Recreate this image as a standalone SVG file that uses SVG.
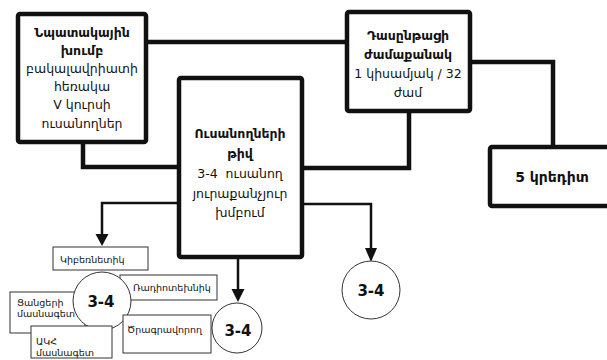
<svg xmlns="http://www.w3.org/2000/svg" width="607" height="360" viewBox="0 0 607 360">
<style>
.box{fill:#fff;stroke:#111;stroke-width:4.5;stroke-linejoin:round}
.sbox{fill:#fff;stroke:#333;stroke-width:1}
.circ{fill:#fff;stroke:#333;stroke-width:1}
.thick{fill:none;stroke:#111;stroke-width:4.5}
.thin{fill:none;stroke:#111;stroke-width:2.5}
.head{fill:#111}
text{font-family:"DejaVu Sans","Noto Sans",sans-serif;fill:#111}
.t{font-size:12.5px;text-anchor:middle}
.b{font-size:12.5px;font-weight:bold;text-anchor:middle}
.s{font-size:9.5px}
.c{font-size:15px;font-weight:bold;text-anchor:middle}
</style>
<g id="connectors">
<path class="thick" d="M146,42 H347"/>
<path class="thick" d="M470,62 H553 V147"/>
<path class="thick" d="M409,111 V168 H302"/>
<path class="thick" d="M83,142 V167 H179"/>
<path class="thin" d="M179,203 H102 V236"/>
<polygon class="head" points="95.5,234 108.5,234 102,246"/>
<path class="thin" d="M302,204 H371 V250"/>
<polygon class="head" points="365,248 377,248 371,262"/>
<path class="thin" d="M238,257 V290"/>
<polygon class="head" points="231.5,289 244.5,289 238,302"/>
</g>
<g id="node-target-group">
<rect class="box" x="18" y="14" width="128" height="128" rx="2"/>
<text class="b" x="82" y="37">Նպատակային</text>
<text class="b" x="82" y="55">խումբ</text>
<text class="t" x="82" y="73">բակալավրիատի</text>
<text class="t" x="82" y="91">հեռակա</text>
<text class="t" x="82" y="109">V կուրսի</text>
<text class="t" x="82" y="128">ուսանողներ</text>
</g>
<g id="node-duration">
<rect class="box" x="347" y="12" width="123" height="99" rx="2"/>
<text class="b" x="408" y="40">Դասընթացի</text>
<text class="b" x="408" y="59">ժամաքանակ</text>
<text class="t" x="408" y="78">1 կիսամյակ / 32</text>
<text class="t" x="408" y="97">ժամ</text>
</g>
<g id="node-students">
<rect class="box" x="179" y="78" width="123" height="179" rx="2"/>
<text class="b" x="240" y="138">Ուսանողների</text>
<text class="b" x="240" y="158">թիվ</text>
<text class="t" x="240" y="178" xml:space="preserve">3-4  ուսանող</text>
<text class="t" x="240" y="198">յուրաքանչյուր</text>
<text class="t" x="240" y="217">խմբում</text>
</g>
<g id="node-credits">
<rect class="box" x="490" y="147" width="125" height="59" rx="2"/>
<text class="b" x="552" y="182" style="font-size:14px">5 կրեդիտ</text>
</g>
<g id="node-cybernetics">
<rect class="sbox" x="53" y="247" width="95" height="23"/>
<text class="s" x="60" y="263">Կիբեռնետիկ</text>
</g>
<g id="node-network">
<rect class="sbox" x="10" y="292" width="75" height="41"/>
<text class="s" x="17" y="306">Ցանցերի</text>
<text class="s" x="17" y="317">մասնագետ</text>
</g>
<g id="node-radio">
<rect class="sbox" x="120" y="275" width="97" height="25"/>
<text class="s" x="133" y="291">Ռադիոտեխնիկ</text>
</g>
<g id="node-circle-left">
<circle class="circ" cx="102" cy="301" r="29"/>
<text class="c" x="101" y="307">3-4</text>
</g>
<g id="node-aks">
<rect class="sbox" x="31" y="326" width="81" height="32"/>
<text class="s" x="36" y="345">ԱԿՀ</text>
<text class="s" x="36" y="356">մասնագետ</text>
</g>
<g id="node-programmer">
<rect class="sbox" x="123" y="315" width="88" height="38"/>
<text class="s" x="127" y="333">Ծրագրավորող</text>
</g>
<g id="node-circle-bottom">
<circle class="circ" cx="237" cy="328" r="25"/>
<text class="c" x="238" y="336">3-4</text>
</g>
<g id="node-circle-right">
<circle class="circ" cx="371" cy="290" r="29"/>
<text class="c" x="371" y="296">3-4</text>
</g>
</svg>
